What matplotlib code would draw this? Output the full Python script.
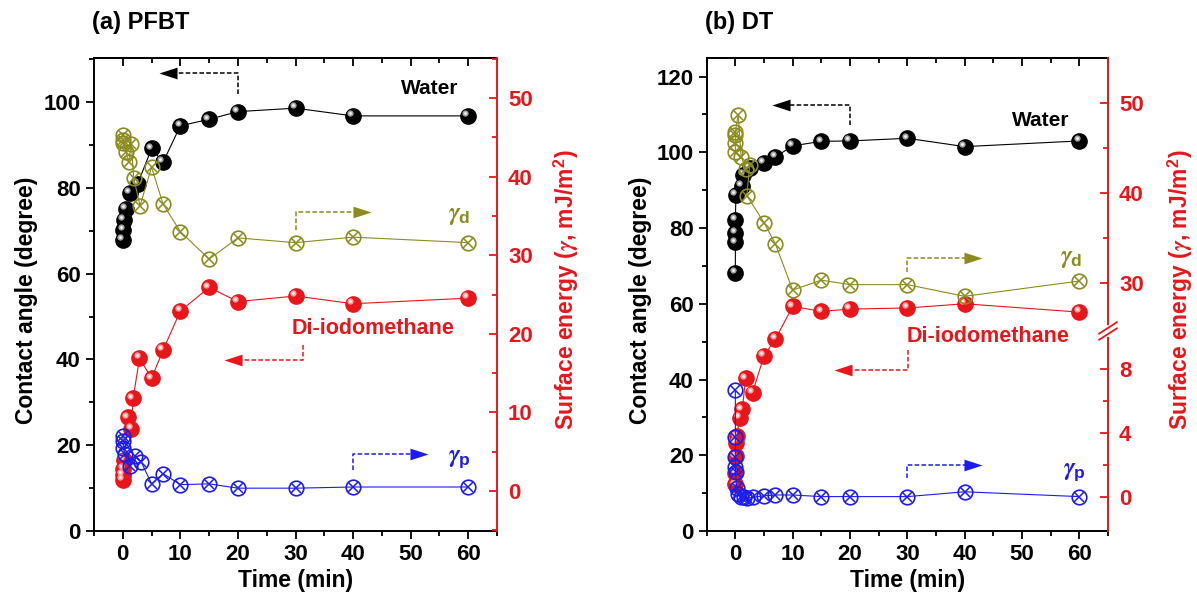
import numpy as np
import matplotlib
matplotlib.use('Agg')
import matplotlib.pyplot as plt
from matplotlib.ticker import MultipleLocator, FixedLocator, FormatStrFormatter, NullFormatter
from matplotlib.transforms import offset_copy
from matplotlib.path import Path

plt.rcParams['font.family'] = ['Liberation Sans', 'DejaVu Sans']
plt.rcParams['font.weight'] = 'bold'
plt.rcParams['axes.labelweight'] = 'bold'
plt.rcParams['mathtext.fontset'] = 'custom'
plt.rcParams['mathtext.it'] = 'STIXGeneral:italic'
plt.rcParams['mathtext.rm'] = 'Liberation Sans'
plt.rcParams['mathtext.bf'] = 'Liberation Sans:bold'

RED = '#e8161b'
OLIVE = '#8c8c1e'
BLUE = '#1c1cf0'

# ---- (a) PFBT ----
a_water_t = [0, 0.1, 0.2, 0.6, 1.3, 2.6, 5, 7, 10, 15, 20, 30, 40, 60]
a_water = [67.8, 70.2, 72.5, 75.2, 78.8, 81.0, 89.2, 86.0, 94.5, 96.0, 97.8, 98.6, 96.8, 96.8]
a_diio_t = [0, 0.05, 0.1, 0.2, 0.9, 1.5, 1.8, 2.9, 5, 7, 10, 15, 20, 30, 40, 60]
a_diio = [11.9, 13.0, 14.5, 16.5, 26.5, 23.9, 30.9, 40.3, 35.6, 42.2, 51.3, 56.8, 53.5, 54.8, 53.0, 54.3]
a_gd_t = [0, 0.05, 0.1, 0.5, 1.0, 1.5, 1.9, 3, 5, 7, 10, 15, 20, 30, 40, 60]
a_gd = [45.3, 44.7, 44.3, 43.2, 41.9, 44.1, 39.8, 36.3, 41.2, 36.5, 33.0, 29.5, 32.2, 31.6, 32.3, 31.6]
a_gp_t = [0, 0.05, 0.1, 0.3, 1.2, 2.2, 3.2, 5, 7, 10, 15, 20, 30, 40, 60]
a_gp = [7.0, 6.3, 5.5, 4.7, 3.2, 4.5, 3.7, 0.9, 2.2, 0.8, 0.9, 0.35, 0.35, 0.5, 0.5]

# ---- (b) DT ----
b_water_t = [0, 0, 0, 0, 0.1, 1.2, 1.4, 2.5, 5, 7, 10, 15, 20, 30, 40, 60]
b_water = [68.1, 76.2, 78.8, 82.2, 88.8, 91.2, 94.1, 95.8, 97.2, 98.8, 101.7, 102.9, 103.0, 103.7, 101.5, 103.0]
b_diio_t = [0, 0, 0.05, 0.1, 0.2, 0.8, 1.2, 1.8, 3, 5, 7, 10, 15, 20, 30, 40, 60]
b_diio = [12.3, 15.4, 19.7, 23.3, 25.0, 29.9, 32.1, 40.3, 36.5, 46.3, 50.7, 59.3, 58.0, 58.6, 58.9, 60.0, 57.8]
b_gd_t = [0, 0, 0, 0, 0.5, 1.0, 1.9, 2.5, 2.0, 5, 7, 10, 15, 20, 30, 40, 60]
b_gd = [44.6, 45.5, 46.4, 46.8, 48.7, 44.0, 42.7, 43.1, 39.7, 36.7, 34.3, 29.2, 30.3, 29.8, 29.8, 28.5, 30.2]
b_gp_t = [0, 0, 0, 0, 0.05, 0.2, 0.5, 1, 1.5, 2, 3, 5, 7, 10, 15, 20, 30, 40, 60]
b_gp = [6.7, 3.8, 2.5, 1.9, 1.6, 0.6, 0.2, 0.05, 0.0, -0.05, 0.0, 0.1, 0.15, 0.15, 0.05, 0.05, 0.05, 0.35, 0.05]

fig = plt.figure(figsize=(11.97, 6.15), dpi=100)
ax_a = fig.add_axes([94/1197, 84/615, 403/1197, 473/615])
ax_b = fig.add_axes([706.7/1197, 84/615, 401.3/1197, 473/615])

left_head = Path([(-1, 0), (1, 0.65), (1, -0.65), (-1, 0)], closed=True)
right_head = Path([(1, 0), (-1, 0.65), (-1, -0.65), (1, 0)], closed=True)


def sphere(ax, t, v, color, hi):
    ax.plot(t, v, '-', color=color, lw=0.8, zorder=2)
    ax.plot(t, v, 'o', color=color, ms=11, mec=color, zorder=3)
    tr = offset_copy(ax.transData, fig=fig, x=-2, y=2, units='points')
    ax.plot(t, v, 'o', color=hi, ms=4.5, mew=0, alpha=0.8, transform=tr, zorder=4)
    ax.plot(t, v, 'o', color='white', ms=2, mew=0, alpha=0.9, transform=tr, zorder=4)


def crossed(ax, t, v, color):
    ax.plot(t, v, '-', color=color, lw=0.8, zorder=2)
    ax.plot(t, v, 'o', mfc='none', mec=color, mew=1.2, ms=10.5, zorder=3)
    ax.plot(t, v, 'x', color=color, mew=1.1, ms=7, zorder=4)


def dash_arrow(ax, pts, color, head):
    xs = [p[0] for p in pts]
    ys = [p[1] for p in pts]
    ax.plot(xs, ys, '--', color=color, lw=1.1, dashes=(3, 1.5), zorder=5)
    ax.plot(xs[-1], ys[-1], marker=head, color=color, ms=13, mew=0, zorder=6)


def style_axes(ax, ymax, ymaj, ymin):
    ax.set_xlim(-5, 65)
    ax.set_ylim(0, ymax)
    ax.xaxis.set_major_locator(MultipleLocator(10))
    ax.xaxis.set_minor_locator(MultipleLocator(5))
    ax.yaxis.set_major_locator(MultipleLocator(ymaj))
    ax.yaxis.set_minor_locator(MultipleLocator(ymin))
    ax.tick_params(which='both', direction='out', width=1.3, labelsize=16, top=False, right=False)
    ax.tick_params(which='major', length=6)
    ax.tick_params(which='minor', length=3.5)
    ax.spines['right'].set_visible(False)
    for s in ['left', 'top', 'bottom']:
        ax.spines[s].set_linewidth(1.4)
    sec = ax.secondary_xaxis('top')
    sec.xaxis.set_major_locator(MultipleLocator(10))
    sec.xaxis.set_minor_locator(MultipleLocator(5))
    sec.tick_params(which='both', direction='in', width=1.3, labeltop=False)
    sec.tick_params(which='major', length=6)
    sec.tick_params(which='minor', length=3.5)
    sec.spines['top'].set_linewidth(1.4)
    ax.set_xlabel('Time (min)', fontsize=16.5, labelpad=3)


def style_right(r):
    r.spines['right'].set_color(RED)
    r.spines['right'].set_linewidth(1.4)
    for s in ['left', 'top', 'bottom']:
        r.spines[s].set_visible(False)
    r.tick_params(which='both', direction='in', colors=RED, width=1.3, labelsize=16, pad=8)
    r.tick_params(which='major', length=6)
    r.tick_params(which='minor', length=3.5)


# ---------- panel (a) ----------
style_axes(ax_a, 110.3, 20, 10)
ra = ax_a.twinx()
ra.set_ylim(-5.1, 55.1)
ra.yaxis.set_major_locator(MultipleLocator(10))
ra.yaxis.set_minor_locator(MultipleLocator(5))
style_right(ra)

sphere(ax_a, a_water_t, a_water, 'black', '#d0d0d0')
sphere(ax_a, a_diio_t, a_diio, RED, '#ffc8c8')
crossed(ra, a_gd_t, a_gd, OLIVE)
crossed(ra, a_gp_t, a_gp, BLUE)

dash_arrow(ax_a, [(20, 102), (20, 106.8), (7.9, 106.8)], 'black', left_head)
dash_arrow(ax_a, [(30, 70.2), (30, 74.5), (41.5, 74.5)], OLIVE, right_head)
dash_arrow(ax_a, [(31.3, 43.4), (31.3, 39.9), (19.2, 39.9)], RED, left_head)
dash_arrow(ax_a, [(40, 14.2), (40, 17.9), (51.5, 17.9)], BLUE, right_head)

ax_a.text(53.3, 103.1, 'Water', fontsize=15, ha='center', va='center')
ax_a.text(43.5, 47.3, 'Di-iodomethane', fontsize=15.5, color=RED, ha='center', va='center')
ax_a.text(58.5, 73.7, r'$\gamma_\mathbf{d}$', fontsize=18, color=OLIVE, ha='center', va='center')
ax_a.text(58.5, 16.7, r'$\gamma_\mathbf{p}$', fontsize=18, color=BLUE, ha='center', va='center')

# ---------- panel (b) ----------
style_axes(ax_b, 124.9, 20, 10)
rb = ax_b.twinx()
xk = [-50, -2.1, 10.4, 24.7, 55.0, 105]
yk = [-766, 0, 200, 200.5, 473, 923]


def fwd(v):
    return np.interp(v, xk, yk)


def inv(v):
    return np.interp(v, yk, xk)


rb.set_yscale('function', functions=(fwd, inv))
rb.set_ylim(-2.1, 55.0)
rb.yaxis.set_major_locator(FixedLocator([0, 4, 8, 30, 40, 50]))
rb.yaxis.set_minor_locator(FixedLocator([2, 6, 35, 45]))
rb.yaxis.set_major_formatter(FormatStrFormatter('%d'))
rb.yaxis.set_minor_formatter(NullFormatter())
style_right(rb)

sphere(ax_b, b_water_t, b_water, 'black', '#d0d0d0')
sphere(ax_b, b_diio_t, b_diio, RED, '#ffc8c8')
crossed(rb, b_gd_t, b_gd, OLIVE)
crossed(rb, b_gp_t, b_gp, BLUE)

dash_arrow(ax_b, [(20, 107.3), (20, 112.5), (8.0, 112.5)], 'black', left_head)
dash_arrow(ax_b, [(30, 68.5), (30, 72.2), (41.5, 72.2)], OLIVE, right_head)
dash_arrow(ax_b, [(30.2, 47.9), (30.2, 42.6), (18.8, 42.6)], RED, left_head)
dash_arrow(ax_b, [(30, 14.1), (30, 17.5), (41.5, 17.5)], BLUE, right_head)

ax_b.text(53.3, 108.4, 'Water', fontsize=15, ha='center', va='center')
ax_b.text(44.0, 51.4, 'Di-iodomethane', fontsize=15.5, color=RED, ha='center', va='center')
ax_b.text(58.6, 72.2, r'$\gamma_\mathbf{d}$', fontsize=18, color=OLIVE, ha='center', va='center')
ax_b.text(59.1, 15.7, r'$\gamma_\mathbf{p}$', fontsize=18, color=BLUE, ha='center', va='center')

# axis break marks on right spine of (b)
f = 200 / 473
rb.plot([1, 1], [f - 0.007, f + 0.007], color='white', lw=4, transform=rb.transAxes, clip_on=False, zorder=10)
for d in (-0.0065, 0.0065):
    rb.plot([1 - 0.022, 1 + 0.022], [f + d - 0.012, f + d + 0.012], color=RED, lw=1.3,
            transform=rb.transAxes, clip_on=False, zorder=11)

# labels and titles
for x in (27, 640):
    fig.text(x / 1197, 1 - 300 / 615, 'Contact angle (degree)', rotation=90, fontsize=16.5,
             ha='center', va='center')
for x in (566, 1180):
    fig.text(x / 1197, 1 - 290 / 615, r'Surface energy ($\gamma$, mJ/m$^\mathbf{2}$)', rotation=90,
             fontsize=16.5, color=RED, ha='center', va='center')
fig.text(92 / 1197, 1 - 22 / 615, '(a) PFBT', fontsize=17, ha='left', va='center')
fig.text(705 / 1197, 1 - 22 / 615, '(b) DT', fontsize=17, ha='left', va='center')

fig.savefig('out.png', dpi=100)
